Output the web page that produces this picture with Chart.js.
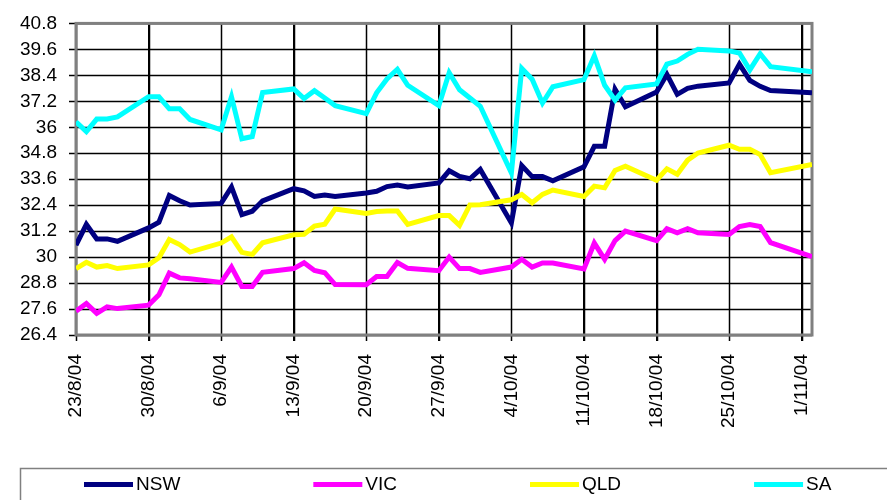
<!DOCTYPE html>
<html>
<head>
<meta charset="utf-8">
<script src="https://cdn.jsdelivr.net/npm/chart.js@4.4.1/dist/chart.umd.min.js"></script>
<style>
  html, body { margin: 0; padding: 0; background: #fff; }
  canvas { display: block; }
</style>
</head>
<body>
<canvas id="chart" width="887" height="500"></canvas>
<script>
// trading days, counted from 23/8/04
const dayOffsets = [0, 1, 2, 3, 4, 7, 8, 9, 10, 11, 14, 15, 16, 17, 18, 21, 22, 23, 24, 25,
  28, 29, 30, 31, 32, 35, 36, 37, 38, 39, 42, 43, 44, 45, 46, 49, 50, 51, 52, 53,
  56, 57, 58, 59, 60, 63, 64, 65, 66, 67, 71];

const tickLabels = ['23/8/04', '30/8/04', '6/9/04', '13/9/04', '20/9/04', '27/9/04',
  '4/10/04', '11/10/04', '18/10/04', '25/10/04', '1/11/04'];

const nsw = [30.55, 31.51, 30.84, 30.84, 30.73, 31.35, 31.61, 32.85, 32.6, 32.41,
  32.48, 33.24, 31.96, 32.12, 32.6, 33.16, 33.06, 32.8, 32.87, 32.8,
  32.96, 33.04, 33.26, 33.33, 33.24, 33.43, 33.99, 33.73, 33.62, 34.05,
  31.58, 34.23, 33.72, 33.72, 33.53, 34.17, 35.12, 35.12, 37.76, 36.95,
  37.63, 38.44, 37.52, 37.8, 37.9, 38.05, 38.92, 38.17, 37.89, 37.7, 37.6];

const vic = [27.5, 27.86, 27.4, 27.7, 27.62, 27.78, 28.26, 29.26, 29.04, 29.0,
  28.83, 29.54, 28.64, 28.64, 29.3, 29.47, 29.74, 29.38, 29.28, 28.73,
  28.72, 29.1, 29.1, 29.75, 29.48, 29.37, 30.0, 29.47, 29.47, 29.29,
  29.54, 29.9, 29.54, 29.73, 29.73, 29.45, 30.65, 29.9, 30.76, 31.2,
  30.76, 31.31, 31.12, 31.31, 31.12, 31.05, 31.41, 31.5, 31.41, 30.67, 30.02];

const qld = [29.47, 29.76, 29.54, 29.61, 29.47, 29.64, 29.97, 30.81, 30.58, 30.23,
  30.65, 30.94, 30.22, 30.12, 30.66, 31.03, 31.05, 31.43, 31.52, 32.22,
  32.02, 32.11, 32.13, 32.13, 31.51, 31.92, 31.92, 31.47, 32.41, 32.42,
  32.65, 32.89, 32.51, 32.9, 33.1, 32.8, 33.28, 33.2, 34.0, 34.2,
  33.55, 34.08, 33.83, 34.48, 34.81, 35.17, 34.98, 34.98, 34.74, 33.9, 34.28];

const sa = [36.25, 35.8, 36.38, 36.38, 36.48, 37.41, 37.41, 36.85, 36.85, 36.36,
  35.88, 37.41, 35.47, 35.57, 37.61, 37.77, 37.33, 37.69, 37.35, 37.0,
  36.63, 37.59, 38.23, 38.68, 37.94, 37.0, 38.52, 37.73, 37.35, 36.97,
  33.89, 38.72, 38.22, 37.12, 37.87, 38.2, 39.3, 37.94, 37.25, 37.82,
  38.0, 38.92, 39.06, 39.37, 39.6, 39.53, 39.43, 38.65, 39.4, 38.8, 38.57];

const seriesNames = ['NSW', 'VIC', 'QLD', 'SA'];
const seriesColors = ['#000080', '#ff00ff', '#ffff00', '#00ffff'];
const seriesValues = [nsw, vic, qld, sa];

const FONT = '"Liberation Sans", Arial, sans-serif';
Chart.defaults.font.family = FONT;
Chart.defaults.font.size = 19;
Chart.defaults.color = '#000';

const framePlugin = {
  id: 'frame',
  beforeDatasetsDraw(chart) {
    const { ctx, chartArea: a, scales } = chart;
    const xs = scales.x, ys = scales.y;
    ctx.save();
    // black grid plus the small outside tick marks
    ctx.strokeStyle = '#000000';
    ctx.lineWidth = 1.5;
    ctx.beginPath();
    xs.ticks.forEach(t => {
      const px = Math.round(xs.getPixelForValue(t.value)) + 0.5;
      ctx.moveTo(px, a.top);
      ctx.lineTo(px, a.bottom + 6);
    });
    ys.ticks.forEach(t => {
      const py = Math.round(ys.getPixelForValue(t.value)) + 0.5;
      ctx.moveTo(a.left - 7, py);
      ctx.lineTo(a.right, py);
    });
    ctx.stroke();
    // grey frame round the plot area
    ctx.strokeStyle = '#808080';
    ctx.lineWidth = 3;
    ctx.strokeRect(a.left, a.top, a.right - a.left, a.bottom - a.top);
    ctx.restore();
  },
  afterDraw(chart) {
    // legend box along the bottom
    const ctx = chart.ctx;
    ctx.save();
    ctx.strokeStyle = '#808080';
    ctx.lineWidth = 1.5;
    ctx.strokeRect(20.5, 468.5, 900, 60);
    ctx.font = '19px ' + FONT;
    ctx.textBaseline = 'middle';
    let x = 84;
    const y = 484.5;
    chart.data.datasets.forEach(ds => {
      ctx.fillStyle = ds.borderColor;
      ctx.fillRect(x, y - 2.5, 49, 5);
      ctx.fillStyle = '#000';
      ctx.fillText(ds.label, x + 52, y);
      x += 52 + ctx.measureText(ds.label).width + 133;
    });
    ctx.restore();
  }
};

new Chart(document.getElementById('chart'), {
  type: 'line',
  data: {
    datasets: seriesNames.map((name, i) => ({
      label: name,
      data: dayOffsets.map((d, j) => ({ x: d, y: seriesValues[i][j] })),
      borderColor: seriesColors[i],
      borderWidth: 5,
      pointRadius: 0,
      tension: 0,
      fill: false,
      order: seriesNames.length - 1 - i
    }))
  },
  options: {
    responsive: false,
    animation: false,
    layout: { autoPadding: false, padding: { left: 0, top: 13, right: 75, bottom: 35 } },
    plugins: {
      legend: { display: false },
      tooltip: { enabled: false }
    },
    scales: {
      x: {
        type: 'linear',
        min: 0,
        max: 71,
        afterFit: s => { s.height = 130; },
        border: { display: false },
        grid: { color: '#000', lineWidth: 1, tickLength: 6 },
        ticks: {
          stepSize: 7,
          includeBounds: false,
          autoSkip: false,
          minRotation: 90,
          maxRotation: 90,
          padding: 13,
          color: '#000',
          callback: v => tickLabels[v / 7]
        }
      },
      y: {
        min: 26.4,
        max: 40.8,
        afterFit: s => { s.width = 76; },
        border: { display: false },
        grid: { color: '#000', lineWidth: 1, tickLength: 7 },
        ticks: {
          stepSize: 1.2,
          autoSkip: false,
          padding: 12,
          color: '#000',
          callback: v => String(+v.toFixed(1))
        }
      }
    }
  },
  plugins: [framePlugin]
});
</script>
</body>
</html>
